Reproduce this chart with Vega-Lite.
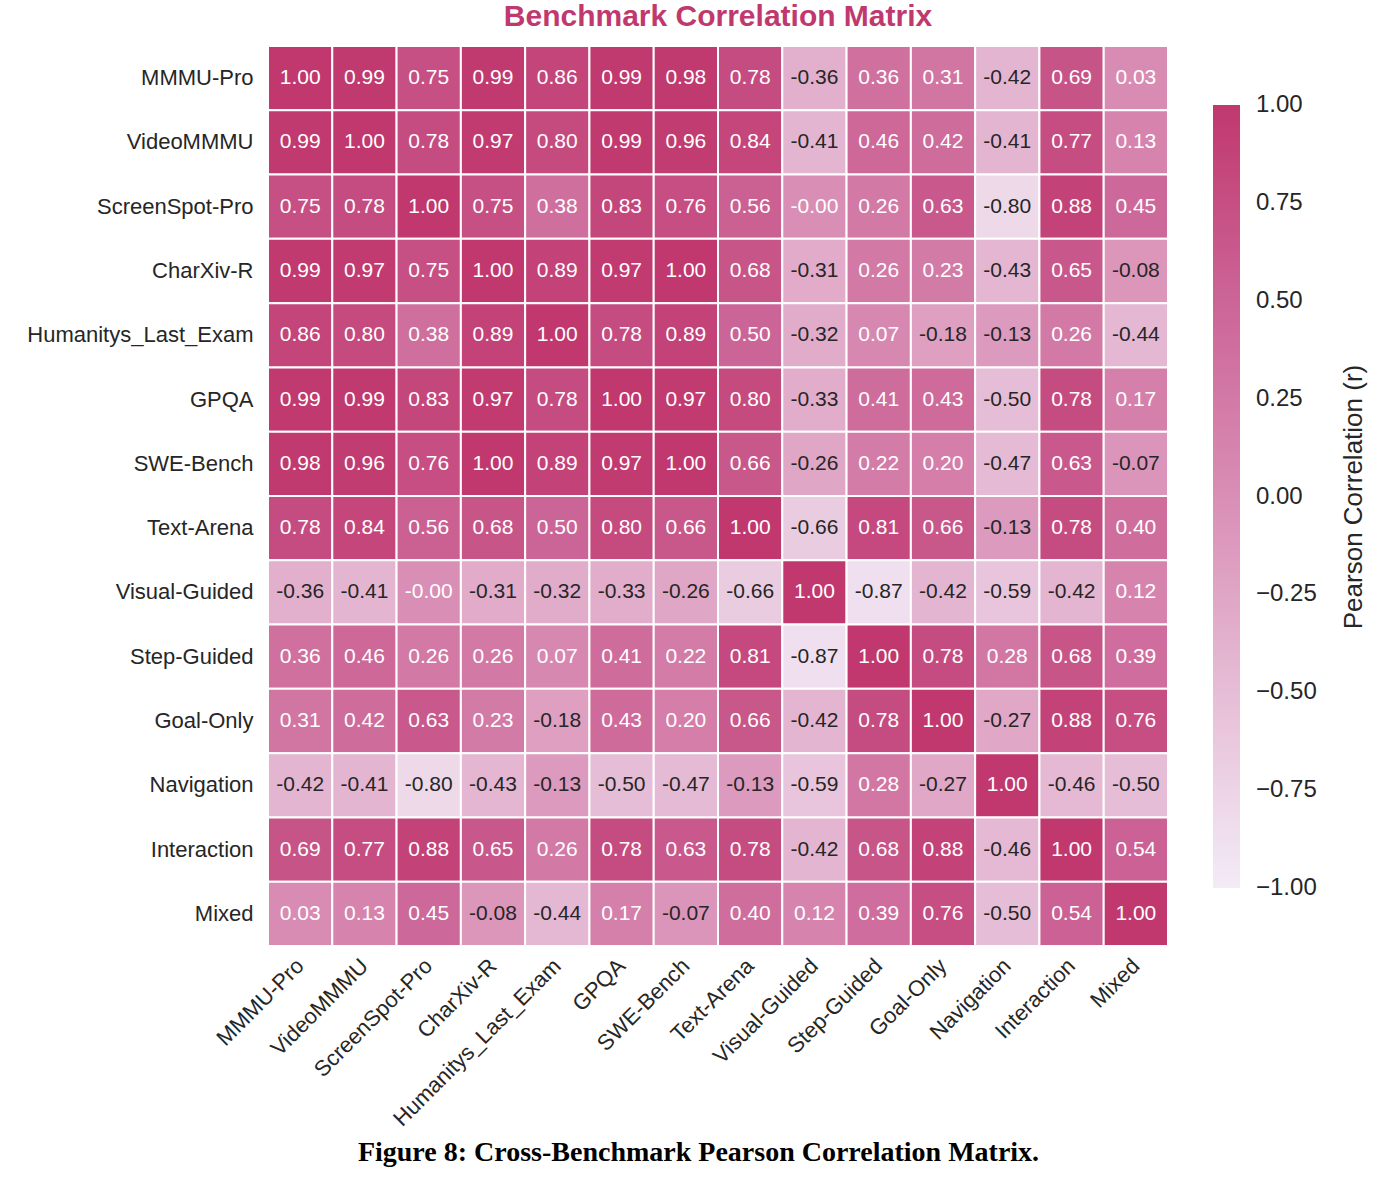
{
  "$schema": "https://vega.github.io/schema/vega-lite/v6.json",
  "width": 900,
  "height": 900,
  "autosize": {"type": "none"},
  "padding": {"left": 268, "top": 46, "right": 226, "bottom": 237},
  "background": "white",
  "title": {"text": "Benchmark Correlation Matrix", "fontSize": 30, "font": "Liberation Sans", "fontWeight": "bold", "color": "#c0396e", "offset": 13, "anchor": "middle"},
  "config": {"view": {"stroke": null}, "font": "Liberation Sans"},
  "data": {"values": [
    {"row":"MMMU-Pro","col":"MMMU-Pro","r":1.00},{"row":"MMMU-Pro","col":"VideoMMMU","r":0.99},{"row":"MMMU-Pro","col":"ScreenSpot-Pro","r":0.75},{"row":"MMMU-Pro","col":"CharXiv-R","r":0.99},{"row":"MMMU-Pro","col":"Humanitys_Last_Exam","r":0.86},{"row":"MMMU-Pro","col":"GPQA","r":0.99},{"row":"MMMU-Pro","col":"SWE-Bench","r":0.98},{"row":"MMMU-Pro","col":"Text-Arena","r":0.78},{"row":"MMMU-Pro","col":"Visual-Guided","r":-0.36},{"row":"MMMU-Pro","col":"Step-Guided","r":0.36},{"row":"MMMU-Pro","col":"Goal-Only","r":0.31},{"row":"MMMU-Pro","col":"Navigation","r":-0.42},{"row":"MMMU-Pro","col":"Interaction","r":0.69},{"row":"MMMU-Pro","col":"Mixed","r":0.03},
    {"row":"VideoMMMU","col":"MMMU-Pro","r":0.99},{"row":"VideoMMMU","col":"VideoMMMU","r":1.00},{"row":"VideoMMMU","col":"ScreenSpot-Pro","r":0.78},{"row":"VideoMMMU","col":"CharXiv-R","r":0.97},{"row":"VideoMMMU","col":"Humanitys_Last_Exam","r":0.80},{"row":"VideoMMMU","col":"GPQA","r":0.99},{"row":"VideoMMMU","col":"SWE-Bench","r":0.96},{"row":"VideoMMMU","col":"Text-Arena","r":0.84},{"row":"VideoMMMU","col":"Visual-Guided","r":-0.41},{"row":"VideoMMMU","col":"Step-Guided","r":0.46},{"row":"VideoMMMU","col":"Goal-Only","r":0.42},{"row":"VideoMMMU","col":"Navigation","r":-0.41},{"row":"VideoMMMU","col":"Interaction","r":0.77},{"row":"VideoMMMU","col":"Mixed","r":0.13},
    {"row":"ScreenSpot-Pro","col":"MMMU-Pro","r":0.75},{"row":"ScreenSpot-Pro","col":"VideoMMMU","r":0.78},{"row":"ScreenSpot-Pro","col":"ScreenSpot-Pro","r":1.00},{"row":"ScreenSpot-Pro","col":"CharXiv-R","r":0.75},{"row":"ScreenSpot-Pro","col":"Humanitys_Last_Exam","r":0.38},{"row":"ScreenSpot-Pro","col":"GPQA","r":0.83},{"row":"ScreenSpot-Pro","col":"SWE-Bench","r":0.76},{"row":"ScreenSpot-Pro","col":"Text-Arena","r":0.56},{"row":"ScreenSpot-Pro","col":"Visual-Guided","r":-0.001},{"row":"ScreenSpot-Pro","col":"Step-Guided","r":0.26},{"row":"ScreenSpot-Pro","col":"Goal-Only","r":0.63},{"row":"ScreenSpot-Pro","col":"Navigation","r":-0.80},{"row":"ScreenSpot-Pro","col":"Interaction","r":0.88},{"row":"ScreenSpot-Pro","col":"Mixed","r":0.45},
    {"row":"CharXiv-R","col":"MMMU-Pro","r":0.99},{"row":"CharXiv-R","col":"VideoMMMU","r":0.97},{"row":"CharXiv-R","col":"ScreenSpot-Pro","r":0.75},{"row":"CharXiv-R","col":"CharXiv-R","r":1.00},{"row":"CharXiv-R","col":"Humanitys_Last_Exam","r":0.89},{"row":"CharXiv-R","col":"GPQA","r":0.97},{"row":"CharXiv-R","col":"SWE-Bench","r":1.00},{"row":"CharXiv-R","col":"Text-Arena","r":0.68},{"row":"CharXiv-R","col":"Visual-Guided","r":-0.31},{"row":"CharXiv-R","col":"Step-Guided","r":0.26},{"row":"CharXiv-R","col":"Goal-Only","r":0.23},{"row":"CharXiv-R","col":"Navigation","r":-0.43},{"row":"CharXiv-R","col":"Interaction","r":0.65},{"row":"CharXiv-R","col":"Mixed","r":-0.08},
    {"row":"Humanitys_Last_Exam","col":"MMMU-Pro","r":0.86},{"row":"Humanitys_Last_Exam","col":"VideoMMMU","r":0.80},{"row":"Humanitys_Last_Exam","col":"ScreenSpot-Pro","r":0.38},{"row":"Humanitys_Last_Exam","col":"CharXiv-R","r":0.89},{"row":"Humanitys_Last_Exam","col":"Humanitys_Last_Exam","r":1.00},{"row":"Humanitys_Last_Exam","col":"GPQA","r":0.78},{"row":"Humanitys_Last_Exam","col":"SWE-Bench","r":0.89},{"row":"Humanitys_Last_Exam","col":"Text-Arena","r":0.50},{"row":"Humanitys_Last_Exam","col":"Visual-Guided","r":-0.32},{"row":"Humanitys_Last_Exam","col":"Step-Guided","r":0.07},{"row":"Humanitys_Last_Exam","col":"Goal-Only","r":-0.18},{"row":"Humanitys_Last_Exam","col":"Navigation","r":-0.13},{"row":"Humanitys_Last_Exam","col":"Interaction","r":0.26},{"row":"Humanitys_Last_Exam","col":"Mixed","r":-0.44},
    {"row":"GPQA","col":"MMMU-Pro","r":0.99},{"row":"GPQA","col":"VideoMMMU","r":0.99},{"row":"GPQA","col":"ScreenSpot-Pro","r":0.83},{"row":"GPQA","col":"CharXiv-R","r":0.97},{"row":"GPQA","col":"Humanitys_Last_Exam","r":0.78},{"row":"GPQA","col":"GPQA","r":1.00},{"row":"GPQA","col":"SWE-Bench","r":0.97},{"row":"GPQA","col":"Text-Arena","r":0.80},{"row":"GPQA","col":"Visual-Guided","r":-0.33},{"row":"GPQA","col":"Step-Guided","r":0.41},{"row":"GPQA","col":"Goal-Only","r":0.43},{"row":"GPQA","col":"Navigation","r":-0.50},{"row":"GPQA","col":"Interaction","r":0.78},{"row":"GPQA","col":"Mixed","r":0.17},
    {"row":"SWE-Bench","col":"MMMU-Pro","r":0.98},{"row":"SWE-Bench","col":"VideoMMMU","r":0.96},{"row":"SWE-Bench","col":"ScreenSpot-Pro","r":0.76},{"row":"SWE-Bench","col":"CharXiv-R","r":1.00},{"row":"SWE-Bench","col":"Humanitys_Last_Exam","r":0.89},{"row":"SWE-Bench","col":"GPQA","r":0.97},{"row":"SWE-Bench","col":"SWE-Bench","r":1.00},{"row":"SWE-Bench","col":"Text-Arena","r":0.66},{"row":"SWE-Bench","col":"Visual-Guided","r":-0.26},{"row":"SWE-Bench","col":"Step-Guided","r":0.22},{"row":"SWE-Bench","col":"Goal-Only","r":0.20},{"row":"SWE-Bench","col":"Navigation","r":-0.47},{"row":"SWE-Bench","col":"Interaction","r":0.63},{"row":"SWE-Bench","col":"Mixed","r":-0.07},
    {"row":"Text-Arena","col":"MMMU-Pro","r":0.78},{"row":"Text-Arena","col":"VideoMMMU","r":0.84},{"row":"Text-Arena","col":"ScreenSpot-Pro","r":0.56},{"row":"Text-Arena","col":"CharXiv-R","r":0.68},{"row":"Text-Arena","col":"Humanitys_Last_Exam","r":0.50},{"row":"Text-Arena","col":"GPQA","r":0.80},{"row":"Text-Arena","col":"SWE-Bench","r":0.66},{"row":"Text-Arena","col":"Text-Arena","r":1.00},{"row":"Text-Arena","col":"Visual-Guided","r":-0.66},{"row":"Text-Arena","col":"Step-Guided","r":0.81},{"row":"Text-Arena","col":"Goal-Only","r":0.66},{"row":"Text-Arena","col":"Navigation","r":-0.13},{"row":"Text-Arena","col":"Interaction","r":0.78},{"row":"Text-Arena","col":"Mixed","r":0.40},
    {"row":"Visual-Guided","col":"MMMU-Pro","r":-0.36},{"row":"Visual-Guided","col":"VideoMMMU","r":-0.41},{"row":"Visual-Guided","col":"ScreenSpot-Pro","r":-0.001},{"row":"Visual-Guided","col":"CharXiv-R","r":-0.31},{"row":"Visual-Guided","col":"Humanitys_Last_Exam","r":-0.32},{"row":"Visual-Guided","col":"GPQA","r":-0.33},{"row":"Visual-Guided","col":"SWE-Bench","r":-0.26},{"row":"Visual-Guided","col":"Text-Arena","r":-0.66},{"row":"Visual-Guided","col":"Visual-Guided","r":1.00},{"row":"Visual-Guided","col":"Step-Guided","r":-0.87},{"row":"Visual-Guided","col":"Goal-Only","r":-0.42},{"row":"Visual-Guided","col":"Navigation","r":-0.59},{"row":"Visual-Guided","col":"Interaction","r":-0.42},{"row":"Visual-Guided","col":"Mixed","r":0.12},
    {"row":"Step-Guided","col":"MMMU-Pro","r":0.36},{"row":"Step-Guided","col":"VideoMMMU","r":0.46},{"row":"Step-Guided","col":"ScreenSpot-Pro","r":0.26},{"row":"Step-Guided","col":"CharXiv-R","r":0.26},{"row":"Step-Guided","col":"Humanitys_Last_Exam","r":0.07},{"row":"Step-Guided","col":"GPQA","r":0.41},{"row":"Step-Guided","col":"SWE-Bench","r":0.22},{"row":"Step-Guided","col":"Text-Arena","r":0.81},{"row":"Step-Guided","col":"Visual-Guided","r":-0.87},{"row":"Step-Guided","col":"Step-Guided","r":1.00},{"row":"Step-Guided","col":"Goal-Only","r":0.78},{"row":"Step-Guided","col":"Navigation","r":0.28},{"row":"Step-Guided","col":"Interaction","r":0.68},{"row":"Step-Guided","col":"Mixed","r":0.39},
    {"row":"Goal-Only","col":"MMMU-Pro","r":0.31},{"row":"Goal-Only","col":"VideoMMMU","r":0.42},{"row":"Goal-Only","col":"ScreenSpot-Pro","r":0.63},{"row":"Goal-Only","col":"CharXiv-R","r":0.23},{"row":"Goal-Only","col":"Humanitys_Last_Exam","r":-0.18},{"row":"Goal-Only","col":"GPQA","r":0.43},{"row":"Goal-Only","col":"SWE-Bench","r":0.20},{"row":"Goal-Only","col":"Text-Arena","r":0.66},{"row":"Goal-Only","col":"Visual-Guided","r":-0.42},{"row":"Goal-Only","col":"Step-Guided","r":0.78},{"row":"Goal-Only","col":"Goal-Only","r":1.00},{"row":"Goal-Only","col":"Navigation","r":-0.27},{"row":"Goal-Only","col":"Interaction","r":0.88},{"row":"Goal-Only","col":"Mixed","r":0.76},
    {"row":"Navigation","col":"MMMU-Pro","r":-0.42},{"row":"Navigation","col":"VideoMMMU","r":-0.41},{"row":"Navigation","col":"ScreenSpot-Pro","r":-0.80},{"row":"Navigation","col":"CharXiv-R","r":-0.43},{"row":"Navigation","col":"Humanitys_Last_Exam","r":-0.13},{"row":"Navigation","col":"GPQA","r":-0.50},{"row":"Navigation","col":"SWE-Bench","r":-0.47},{"row":"Navigation","col":"Text-Arena","r":-0.13},{"row":"Navigation","col":"Visual-Guided","r":-0.59},{"row":"Navigation","col":"Step-Guided","r":0.28},{"row":"Navigation","col":"Goal-Only","r":-0.27},{"row":"Navigation","col":"Navigation","r":1.00},{"row":"Navigation","col":"Interaction","r":-0.46},{"row":"Navigation","col":"Mixed","r":-0.50},
    {"row":"Interaction","col":"MMMU-Pro","r":0.69},{"row":"Interaction","col":"VideoMMMU","r":0.77},{"row":"Interaction","col":"ScreenSpot-Pro","r":0.88},{"row":"Interaction","col":"CharXiv-R","r":0.65},{"row":"Interaction","col":"Humanitys_Last_Exam","r":0.26},{"row":"Interaction","col":"GPQA","r":0.78},{"row":"Interaction","col":"SWE-Bench","r":0.63},{"row":"Interaction","col":"Text-Arena","r":0.78},{"row":"Interaction","col":"Visual-Guided","r":-0.42},{"row":"Interaction","col":"Step-Guided","r":0.68},{"row":"Interaction","col":"Goal-Only","r":0.88},{"row":"Interaction","col":"Navigation","r":-0.46},{"row":"Interaction","col":"Interaction","r":1.00},{"row":"Interaction","col":"Mixed","r":0.54},
    {"row":"Mixed","col":"MMMU-Pro","r":0.03},{"row":"Mixed","col":"VideoMMMU","r":0.13},{"row":"Mixed","col":"ScreenSpot-Pro","r":0.45},{"row":"Mixed","col":"CharXiv-R","r":-0.08},{"row":"Mixed","col":"Humanitys_Last_Exam","r":-0.44},{"row":"Mixed","col":"GPQA","r":0.17},{"row":"Mixed","col":"SWE-Bench","r":-0.07},{"row":"Mixed","col":"Text-Arena","r":0.40},{"row":"Mixed","col":"Visual-Guided","r":0.12},{"row":"Mixed","col":"Step-Guided","r":0.39},{"row":"Mixed","col":"Goal-Only","r":0.76},{"row":"Mixed","col":"Navigation","r":-0.50},{"row":"Mixed","col":"Interaction","r":0.54},{"row":"Mixed","col":"Mixed","r":1.00}
  ]},
  "transform": [
    {"calculate": "(datum.r < 0 ? '-' : '') + format(abs(datum.r), '.2f')", "as": "label"}
  ],
  "encoding": {
    "x": {"field": "col", "type": "nominal",
      "sort": ["MMMU-Pro","VideoMMMU","ScreenSpot-Pro","CharXiv-R","Humanitys_Last_Exam","GPQA","SWE-Bench","Text-Arena","Visual-Guided","Step-Guided","Goal-Only","Navigation","Interaction","Mixed"],
      "scale": {"paddingInner": 0, "paddingOuter": 0},
      "axis": {"title": "Figure 8: Cross-Benchmark Pearson Correlation Matrix.", "titleFont": "Liberation Serif", "titleFontWeight": "bold", "titleFontSize": 28, "titleColor": "#000000", "titlePadding": 9, "titleX": 430, "labelAngle": -45, "labelAlign": "right", "labelBaseline": "middle", "labelFontSize": 22, "labelColor": "#262626", "labelLimit": 400, "labelPadding": 16, "ticks": false, "domain": false, "grid": false}},
    "y": {"field": "row", "type": "nominal",
      "sort": ["MMMU-Pro","VideoMMMU","ScreenSpot-Pro","CharXiv-R","Humanitys_Last_Exam","GPQA","SWE-Bench","Text-Arena","Visual-Guided","Step-Guided","Goal-Only","Navigation","Interaction","Mixed"],
      "scale": {"paddingInner": 0, "paddingOuter": 0},
      "axis": {"title": null, "labelFontSize": 22, "labelColor": "#262626", "labelLimit": 400, "labelPadding": 15, "ticks": false, "domain": false, "grid": false}}
  },
  "layer": [
    {"mark": {"type": "rect", "stroke": "white", "strokeWidth": 2},
     "encoding": {"color": {"field": "r", "type": "quantitative",
        "scale": {"domain": [-1, 1], "range": ["#f3ebf6", "#e6bdd6", "#d98eb5", "#cc6597", "#c0386e"], "interpolate": "rgb"},
        "legend": {"title": "Pearson Correlation (r)", "orient": "none", "legendX": 945, "legendY": 59, "direction": "vertical", "gradientLength": 783, "gradientThickness": 27, "gradientStrokeWidth": 0, "values": [1, 0.75, 0.5, 0.25, 0, -0.25, -0.5, -0.75, -1], "format": ".2f", "labelFontSize": 24, "labelColor": "#262626", "labelOffset": 16, "labelBaseline": "middle", "labelOverlap": false, "titleOrient": "right", "titleAnchor": "middle", "titleFontSize": 26, "titleFontWeight": "normal", "titleColor": "#262626", "titlePadding": 50, "titleLimit": 600,
          "encode": {"title": {"update": {"angle": {"value": -90}}}, "labels": {"update": {"baseline": {"value": "middle"}}}}}}}},
    {"mark": {"type": "text", "fontSize": 21},
     "encoding": {"text": {"field": "label"},
       "color": {"condition": {"test": "datum.r > -0.05", "value": "white"}, "value": "#262626"}}}
  ]
}
